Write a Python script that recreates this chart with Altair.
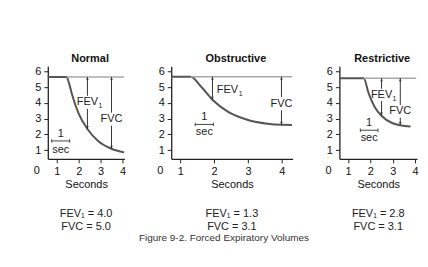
import altair as alt
import pandas as pd

FONT = "Liberation Sans"

# ---------------- data ----------------
panel_names = ["Normal", "Obstructive", "Restrictive"]

# expiration curves (time in s, volume in L)
normal_t = [0.59, 1.45, 1.55, 1.68, 1.99, 2.40, 2.90, 3.50, 4.08]
normal_v = [5.65, 5.65, 5.30, 4.62, 3.35, 2.34, 1.56, 1.08, 0.85]
obstr_t = [0.73, 1.31, 1.61, 1.95, 2.39, 2.98, 3.57, 4.00, 4.30]
obstr_v = [5.66, 5.66, 5.04, 4.20, 3.46, 2.93, 2.68, 2.61, 2.60]
restr_t = [0.61, 1.70, 1.92, 2.22, 2.52, 2.97, 3.34, 3.80]
restr_v = [5.57, 5.57, 4.62, 3.67, 3.15, 2.72, 2.58, 2.50]

fev1_values = [4.0, 1.3, 2.8]
fvc_values = [5.0, 3.1, 3.1]

x_ticks = [1, 2, 3, 4]
y_ticks = [1, 2, 3, 4, 5, 6]

caption = "Figure 9-2. Forced Expiratory Volumes"

# ---------------- layout / annotation placement ----------------
Y_DOMAIN = [0.44, 6.33]
HEIGHT = 93

layouts = [
    dict(xdom=[0.59, 4.09], width=77, line_end=4.08,
         fev=dict(x=2.40, bot=2.34, ly=4.03, gap=(4.45, 3.62), lx=2.40, align="center"),
         fvc=dict(x=3.50, bot=1.08, ly=2.97, gap=(3.38, 2.55)),
         sec=dict(x0=0.77, x1=1.59, y=1.58, one=2.03, sec=1.01)),
    dict(xdom=[0.73, 4.32], width=122, line_end=4.31,
         fev=dict(x=1.95, bot=4.20, ly=4.83, gap=None, lx=2.08, align="left"),
         fvc=dict(x=3.99, bot=2.61, ly=3.95, gap=(4.37, 3.53)),
         sec=dict(x0=1.44, x1=1.98, y=2.63, one=3.08, sec=2.15)),
    dict(xdom=[0.61, 4.09], width=78, line_end=4.05,
         fev=dict(x=2.50, bot=3.20, ly=4.51, gap=(4.90, 4.12), lx=2.50, align="center"),
         fvc=dict(x=3.34, bot=2.60, ly=3.46, gap=(3.86, 3.06)),
         sec=dict(x0=1.55, x1=2.34, y=2.26, one=2.72, sec=1.77)),
]

UP = "M0,0L-0.45,1.1L0.45,1.1Z"
DOWN = "M0,0L-0.45,-1.1L0.45,-1.1Z"
CAP = "M0,-1L0,1"

X_AXIS = alt.Axis(values=x_ticks, title="Seconds", format="d", grid=False)
Y_AXIS = alt.Axis(values=y_ticks, title=None, format="d", grid=False)


def make_panel(i, t, v):
    L = layouts[i]
    xs = alt.Scale(domain=L["xdom"], nice=False, zero=False)
    ys = alt.Scale(domain=Y_DOMAIN, nice=False, zero=False)
    X = lambda f="t": alt.X(f"{f}:Q", scale=xs, axis=X_AXIS)
    Y = lambda f="v": alt.Y(f"{f}:Q", scale=ys, axis=Y_AXIS)
    top = v[0]

    curve = alt.Chart(pd.DataFrame({"t": t, "v": v})).mark_line(
        interpolate="monotone", color="#555555", strokeWidth=2
    ).encode(x=X(), y=Y())

    topline = alt.Chart(pd.DataFrame({"t": [t[1], L["line_end"]], "v": [top, top]})).mark_line(
        color="#a8a8a8", strokeWidth=1.5
    ).encode(x=X(), y=Y())

    # arrow shafts (broken where a label sits on them)
    segs = []
    for key in ("fev", "fvc"):
        a = L[key]
        if a["gap"] is None:
            segs.append((a["x"], top, a["bot"]))
        else:
            segs.append((a["x"], top, a["gap"][0]))
            segs.append((a["x"], a["gap"][1], a["bot"]))
    shafts = alt.Chart(pd.DataFrame(segs, columns=["t", "v", "v2"])).mark_rule(
        color="#333", strokeWidth=1
    ).encode(x=X(), y=Y(), y2="v2:Q")

    ups = alt.Chart(pd.DataFrame({"t": [L["fev"]["x"], L["fvc"]["x"]], "v": [top, top]})).mark_point(
        shape=UP, filled=True, color="#333", size=30, opacity=1
    ).encode(x=X(), y=Y())
    downs = alt.Chart(pd.DataFrame({"t": [L["fev"]["x"], L["fvc"]["x"]],
                                    "v": [L["fev"]["bot"], L["fvc"]["bot"]]})).mark_point(
        shape=DOWN, filled=True, color="#333", size=30, opacity=1
    ).encode(x=X(), y=Y())

    fev_lbl = alt.Chart(pd.DataFrame({"t": [L["fev"]["lx"]], "v": [L["fev"]["ly"]], "s": ["FEV"]})).mark_text(
        font=FONT, fontSize=11, color="#222", align=L["fev"]["align"], baseline="middle"
    ).encode(x=X(), y=Y(), text="s:N")
    sub_dx = 11 if L["fev"]["align"] == "center" else 22
    fev_sub = alt.Chart(pd.DataFrame({"t": [L["fev"]["lx"]], "v": [L["fev"]["ly"]], "s": ["1"]})).mark_text(
        font=FONT, fontSize=7, color="#222", align="left", baseline="middle", dx=sub_dx, dy=4
    ).encode(x=X(), y=Y(), text="s:N")
    fvc_lbl = alt.Chart(pd.DataFrame({"t": [L["fvc"]["x"]], "v": [L["fvc"]["ly"]], "s": ["FVC"]})).mark_text(
        font=FONT, fontSize=11, color="#222", align="center", baseline="middle"
    ).encode(x=X(), y=Y(), text="s:N")

    s = L["sec"]
    bar = alt.Chart(pd.DataFrame({"t": [s["x0"]], "t2": [s["x1"]], "v": [s["y"]]})).mark_rule(
        color="#444", strokeWidth=1
    ).encode(x=X(), x2="t2:Q", y=Y())
    caps = alt.Chart(pd.DataFrame({"t": [s["x0"], s["x1"]], "v": [s["y"], s["y"]]})).mark_point(
        shape=CAP, color="#444", size=12, strokeWidth=1, opacity=1
    ).encode(x=X(), y=Y())
    mid = (s["x0"] + s["x1"]) / 2
    sec_txt = alt.Chart(pd.DataFrame({"t": [mid, mid], "v": [s["one"], s["sec"]], "s": ["1", "sec"]})).mark_text(
        font=FONT, fontSize=11, color="#222", align="center", baseline="middle"
    ).encode(x=X(), y=Y(), text="s:N")

    # corner "0"
    px_per = L["width"] / (L["xdom"][1] - L["xdom"][0])
    zero = alt.Chart(pd.DataFrame({"t": [L["xdom"][0] - 11 / px_per], "v": [-0.32], "s": ["0"]})).mark_text(
        font=FONT, fontSize=11, color="#111", align="center", baseline="middle"
    ).encode(x=X(), y=Y(), text="s:N")

    # summary values below the panel
    cx = (L["xdom"][0] + L["xdom"][1]) / 2
    summary = alt.Chart(pd.DataFrame({
        "t": [cx, cx], "v": [-3.10, -3.88],
        "s": [f"FEV\u2081 = {fev1_values[i]:.1f}", f"FVC = {fvc_values[i]:.1f}"]})).mark_text(
        font=FONT, fontSize=11, color="#222", align="center", baseline="middle"
    ).encode(x=X(), y=Y(), text="s:N")

    layers = [curve, topline, shafts, ups, downs, fev_lbl, fev_sub, fvc_lbl, bar, caps, sec_txt, zero, summary]

    if i == 1:
        cap_x = L["xdom"][0] + (223 - 170) / px_per
        cap = alt.Chart(pd.DataFrame({"t": [cap_x], "v": [-4.62], "s": [caption]})).mark_text(
            font=FONT, fontSize=10, color="#333", align="center", baseline="middle"
        ).encode(x=X(), y=Y(), text="s:N")
        layers.append(cap)

    return alt.layer(*layers).properties(
        width=L["width"], height=HEIGHT,
        title=alt.TitleParams(panel_names[i], fontSize=11, fontWeight="bold", offset=2, dx=4, font=FONT),
    )


p1 = make_panel(0, normal_t, normal_v)
p2 = make_panel(1, obstr_t, obstr_v)
p3 = make_panel(2, restr_t, restr_v)

chart = alt.hconcat(p1, p2, p3, spacing=47, bounds="flush").properties(
    padding={"left": 25, "top": 44, "right": 0, "bottom": 0},
    background="white",
).configure_view(stroke=None).configure_axis(
    domainColor="#222", domainWidth=1.3, tickColor="#222", tickWidth=1, tickSize=4,
    labelFont=FONT, labelFontSize=11, labelColor="#111", labelPadding=3,
    titleFont=FONT, titleFontSize=11, titleFontWeight="normal", titleColor="#111", titlePadding=2,
    grid=False,
).configure_title(font=FONT, color="#111")

chart.save("out.html", embed_options={"renderer": "svg", "actions": False})
